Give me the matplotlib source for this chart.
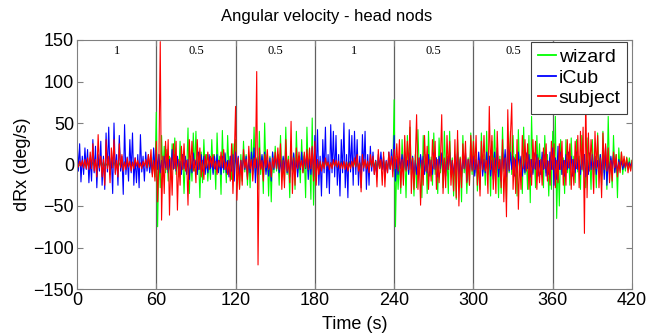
import numpy as np
import matplotlib
matplotlib.use("Agg")
import matplotlib.pyplot as plt

# ---- data (1 sample per second, t = 0..420 s) ----
wizard = [
    1, -2, 2, -1, 3, -2, 1, -3, 2, -1,
    2, -2, 3, -1, 2, -3, 1, -2, 2, -1,
    3, -2, 1, -2, 2, -3, 2, -1, 3, -2,
    1, -2, 2, -3, 1, -1, 3, -2, 2, -1,
    2, -3, 1, -2, 3, -1, 2, -2, 1, -3,
    2, -1, 3, -2, 5, -6, 8, -10, 12, -15,
    63, -75, 12, -28, 35, -8, 22, -10, 18, -20,
    10, -18, 25, -6, 32, -12, 8, -15, 28, -9,
    12, -35, 8, -10, 44, -35, 10, -20, 38, -8,
    40, -12, 9, -40, 15, -22, 30, -8, 12, -20,
    8, -18, 30, -10, 12, -30, 38, -8, 10, -36,
    41, -10, 12, -22, 35, -8, 10, -18, 25, -12,
    30, -10, 8, -28, 12, -20, 28, -9, 12, -25,
    10, -28, 30, -12, 45, -10, 8, -30, 40, -12,
    10, -35, 50, -8, 12, -38, 10, -45, 15, -10,
    22, -8, 12, -25, 35, -10, 8, -20, 45, -12,
    10, -40, 28, -8, 12, -30, 40, -10, 9, -22,
    30, -10, 12, -40, 45, -8, 10, -42, 56, -49,
    8, -6, 5, -4, 3, -5, 4, -3, 5, -4,
    3, -4, 2, -3, 4, -2, 3, -4, 2, -3,
    4, -3, 2, -4, 3, -2, 4, -3, 2, -4,
    3, -2, 4, -3, 2, -4, 3, -2, 4, -3,
    2, -4, 3, -2, 4, -3, 5, -4, 3, -5,
    4, -3, 5, -4, 3, -5, 6, -5, 8, -6,
    78, -75, 10, -30, 8, -35, 30, -9, 12, -40,
    35, -10, 45, -12, 8, -38, 12, -28, 42, -9,
    10, -40, 35, -8, 12, -35, 40, -10, 9, -25,
    38, -12, 8, -35, 32, -10, 12, -28, 40, -9,
    10, -35, 40, -12, 8, -38, 12, -42, 30, -10,
    9, -45, 35, -10, 12, -35, 8, -25, 38, -12,
    30, -10, 12, -32, 8, -30, 38, -9, 12, -25,
    40, -12, 10, -38, 28, -8, 42, -10, 12, -40,
    10, -35, 45, -8, 12, -42, 32, -10, 40, -12,
    35, -9, 12, -38, 42, -10, 8, -35, 45, -12,
    10, -30, 35, -46, 58, -10, 12, -28, 35, -8,
    25, -12, 9, -28, 35, -10, 12, -38, 8, -30,
    40, -12, 58, -65, 10, -50, 30, -12, 8, -35,
    30, -10, 12, -25, 32, -8, 10, -22, 30, -9,
    10, -30, 35, -8, 12, -28, 32, -10, 9, -30,
    30, -12, 10, -28, 38, -9, 12, -25, 40, -10,
    12, -30, 58, -10, 8, -28, 35, -9, 12, -40,
    20, -8, 15, -12, 6, -8, 9, -4, 8, -6,
    5,
]

icub = [
    33, -8, 25, -21, 10, -12, 20, -6, 18, -22,
    8, -20, 30, -10, 22, -28, 12, -8, 28, -25,
    10, -30, 38, -9, 45, -12, 8, -35, 50, -10,
    12, -25, 35, -8, 10, -36, 48, -12, 9, -20,
    30, -10, 38, -25, 8, -22, 12, -28, 36, -9,
    10, -20, 15, -8, 12, -10, 6, -12, 20, -5,
    18, -6, 12, -10, 5, -12, 10, -4, 12, -10,
    6, -12, 18, -5, 12, -8, 10, -8, 4, -12,
    12, -5, 10, -12, 6, -18, 8, -10, 14, -4,
    5, -12, 15, -6, 12, -8, 10, -12, 4, -10,
    12, -5, 8, -12, 10, -6, 12, -10, 5, -12,
    10, -6, 14, -10, 5, -15, 10, -8, 12, -20,
    15, -6, 10, -14, 5, -10, 12, -6, 10, -15,
    6, -10, 15, -8, 20, -22, 6, -12, 10, -5,
    12, -6, 15, -12, 5, -14, 8, -20, 15, -6,
    10, -5, 12, -10, 6, -14, 10, -6, 15, -10,
    5, -15, 10, -6, 14, -10, 5, -15, 10, -6,
    15, -8, 10, -5, 12, -18, 6, -12, 20, -15,
    35, -12, 42, -25, 10, -38, 30, -10, 45, -28,
    12, -35, 48, -10, 40, -15, 35, -25, 12, -38,
    30, -10, 50, -28, 12, -40, 42, -9, 35, -25,
    40, -12, 30, -25, 10, -28, 36, -8, 40, -30,
    12, -25, 22, -8, 15, -12, 5, -15, 12, -4,
    15, -6, 10, -14, 5, -10, 15, -6, 18, -8,
    35, -20, 6, -12, 10, -5, 12, -8, 15, -6,
    5, -12, 14, -6, 10, -15, 5, -12, 8, -10,
    12, -5, 10, -12, 6, -10, 12, -14, 5, -12,
    14, -6, 8, -15, 10, -5, 14, -10, 6, -14,
    10, -6, 15, -10, 5, -14, 10, -6, 15, -18,
    6, -15, 10, -5, 14, -20, 6, -10, 12, -6,
    10, -14, 6, -10, 15, -5, 10, -14, 6, -10,
    15, -6, 10, -14, 5, -18, 15, -6, 20, -15,
    6, -20, 15, -5, 18, -15, 22, -8, 15, -6,
    10, -14, 6, -10, 15, -5, 10, -14, 6, -10,
    14, -5, 12, -15, 6, -12, 14, -6, 12, -14,
    5, -12, 15, -6, 12, -14, 5, -12, 15, -6,
    20, -25, 8, -18, 22, -6, 15, -12, 5, -14,
    12, -6, 15, -5, 10, -14, 6, -10, 15, -6,
    5, -12, 14, -6, 12, -15, 5, -12, 14, -6,
    12, -6, 10, -12, 5, -10, 12, -14, 20, -18,
    22, -25, 6, -12, 10, -5, 12, -10, 4, -10,
    6, -3, 4, -6, 2, -4, 3, -2, 3, -2,
    2,
]

subject = [
    2, -3, 4, -2, 5, -4, 6, -5, 8, -6,
    15, -5, 25, -8, 6, -15, 36, -4, 10, -15,
    6, -25, 30, -5, 10, -22, 20, -4, 30, -12,
    5, -15, 25, -4, 12, -8, 3, -6, 8, -3,
    4, -8, 3, -5, 8, -2, 5, -4, 2, -5,
    4, -2, 6, -4, 12, -3, 18, -15, 5, -20,
    28, -45, 8, 148, -67, 10, -35, 28, -6, 30,
    -61, 8, -37, 25, -5, 28, -55, 6, -25, 22,
    -6, 25, -8, 5, -49, 30, -5, 28, -8, 6,
    -22, 30, -6, 20, -15, 5, -18, 12, -4, 15,
    -6, 10, -3, 12, -5, 4, -12, 5, -3, 15,
    -4, 18, -6, 3, -12, 5, -20, 25, -35, 8,
    70, -43, 8, -30, 5, -25, 18, -4, 6, -18,
    22, -5, 6, -20, 8, -4, 112, -121, 20, -6,
    5, -20, 12, -4, 18, -6, 3, -15, 8, -4,
    15, -5, 20, -6, 25, -30, 5, -28, 30, -8,
    6, -22, 52, -35, 8, -25, 20, -5, 15, -4,
    5, -10, 15, -4, 18, -6, 20, -5, 22, -20,
    28, -25, 6, -12, 4, -8, 3, -5, 8, -2,
    3, -6, 2, -5, 6, -2, 5, -3, 4, -5,
    2, -5, 4, -6, 3, -8, 2, -5, 4, -3,
    8, -3, 12, -8, 2, -33, 12, -4, 6, -5,
    4, -10, 12, -3, 10, -12, 4, -27, 18, -5,
    6, -25, 15, -27, 4, -10, 15, -5, 10, -15,
    18, -5, 25, -8, 30, -28, 6, -25, 35, -8,
    28, -6, 53, -35, 8, -30, 5, 60, -30, 8,
    -49, 5, -25, 35, -8, 22, -30, 6, -20, 30,
    -5, 28, -30, 6, -22, 4, 60, -35, 8, -28,
    35, -6, 28, -25, 5, -32, 30, -40, 41, -50,
    8, -28, 25, -5, 28, -22, 6, -25, 35, -8,
    28, -6, 35, -25, 5, -38, 28, -6, 35, -8,
    5, -35, 70, -6, 35, -30, 8, -35, 40, -5,
    6, -28, 30, -45, 8, -63, 66, -6, 35, 74,
    -30, 8, -35, 30, -54, 6, -30, 35, -5, 30,
    -8, 25, -30, 6, -25, 30, -5, 28, -30, 8,
    -22, 6, -25, 20, -5, 25, -20, 4, -25, 28,
    -6, 25, -28, 5, -22, 25, -6, 28, -25, 5,
    -25, 30, -4, 25, -30, 6, -25, 28, -5, 35,
    -28, 40, -6, 45, -83, 85, -40, 38, -8, 30,
    6, -35, 40, -5, 35, -28, 8, -40, 38, -6,
    25, -8, 20, -22, 5, -20, 15, -4, 12, -15,
    3, -10, 15, -2, 10, -4, 8, -10, 2, -8,
    5,
]

time_s = np.arange(len(wizard))
block_edges = [60, 120, 180, 240, 300, 360]
block_centers = [30, 90, 150, 210, 270, 330]
block_labels = ["1", "0.5", "0.5", "1", "0.5", "0.5"]
xticks = [0, 60, 120, 180, 240, 300, 360, 420]
yticks = [-150, -100, -50, 0, 50, 100, 150]

W, H = 661, 335
fig = plt.figure(figsize=(6.61, 3.35), dpi=100)
ax = fig.add_axes([77 / W, 1 - 289 / H, 555 / W, 249 / H])

ax.plot(time_s, wizard, color="#00ff00", lw=0.8, label="wizard")
ax.plot(time_s, icub, color="#0000ff", lw=0.8, label="iCub")
ax.plot(time_s, subject, color="#ff0000", lw=0.8, label="subject")

for xe in block_edges:
    ax.axvline(xe, color="#606060", lw=0.9, zorder=0.5)
for xc, lab in zip(block_centers, block_labels):
    ax.text(xc, 137, lab, ha="center", va="center", fontsize=9,
            family="Liberation Serif")

ax.set_xlim(0, 420)
ax.set_ylim(-150, 150)
ax.set_xticks(xticks)
ax.set_yticks(yticks)
ax.tick_params(direction="in", length=4, top=True, right=True,
               labelsize=13, color="#808080", pad=2)
for lbl in ax.get_xticklabels() + ax.get_yticklabels():
    lbl.set_family("Liberation Sans")
for s in ax.spines.values():
    s.set_color("#808080")
    s.set_linewidth(0.8)

fig.text(327 / W, 1 - 16 / H, "Angular velocity - head nods", fontsize=12,
         family="Liberation Sans", ha="center", va="center")
ax.set_xlabel("Time (s)", fontsize=13, family="Liberation Sans", labelpad=5)
ax.set_ylabel("dRx (deg/s)", fontsize=13, family="Liberation Sans", labelpad=2)

leg = ax.legend(loc="upper right", bbox_to_anchor=(627 / W, 1 - 42 / H),
                bbox_transform=fig.transFigure, borderaxespad=0,
                handlelength=0.95, handletextpad=0.12, labelspacing=0.15,
                borderpad=0.33, fancybox=False, framealpha=1,
                prop={"family": "Liberation Sans", "size": 14})
leg.get_frame().set_edgecolor("#404040")
leg.get_frame().set_linewidth(0.8)
for h in leg.get_lines():
    h.set_linewidth(1.3)

fig.savefig("out.png", dpi=100)
